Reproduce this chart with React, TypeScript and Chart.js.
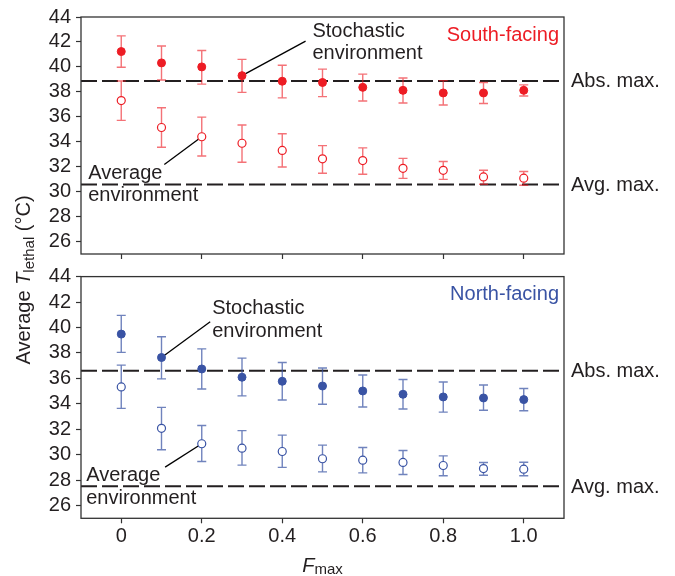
import { useEffect, useRef } from 'react';
import { Chart, registerables } from 'chart.js';

Chart.register(...registerables);

// F_max values (x axis)
const fMax = [0, 0.1, 0.2, 0.3, 0.4, 0.5, 0.6, 0.7, 0.8, 0.9, 1.0];
const fTicks = [0, 0.2, 0.4, 0.6, 0.8, 1.0];
const fTickLabels = ['0', '0.2', '0.4', '0.6', '0.8', '1.0'];
const tempTicks = [26, 28, 30, 32, 34, 36, 38, 40, 42, 44];

// South-facing slope: stochastic environment (filled) and average environment (open)
const southStochastic = [41.23, 40.32, 40.0, 39.3, 38.85, 38.75, 38.36, 38.12, 37.91, 37.91, 38.12];
const southStochasticHi = [42.49, 41.68, 41.31, 40.6, 40.13, 39.82, 39.42, 39.11, 38.9, 38.75, 38.56];
const southStochasticLo = [39.97, 38.95, 38.62, 37.96, 37.52, 37.62, 37.26, 37.1, 36.94, 37.07, 37.67];
const southAverage = [37.3, 35.14, 34.4, 33.88, 33.3, 32.63, 32.49, 31.87, 31.71, 31.18, 31.08];
const southAverageHi = [38.87, 36.73, 35.97, 35.34, 34.64, 33.69, 33.51, 32.67, 32.41, 31.71, 31.61];
const southAverageLo = [35.71, 33.56, 32.86, 32.36, 31.97, 31.47, 31.39, 31.06, 30.98, 30.59, 30.51];
const southAbsMax = 38.87;
const southAvgMax = 30.57;

// North-facing slope
const northStochastic = [39.48, 37.64, 36.74, 36.09, 35.77, 35.4, 35.01, 34.75, 34.54, 34.46, 34.33];
const northStochasticHi = [40.95, 39.27, 38.32, 37.59, 37.25, 36.82, 36.27, 35.91, 35.72, 35.48, 35.2];
const northStochasticLo = [38.04, 35.96, 35.17, 34.62, 34.3, 33.96, 33.75, 33.59, 33.35, 33.49, 33.46];
const northAverage = [35.33, 32.07, 30.86, 30.51, 30.25, 29.68, 29.57, 29.39, 29.15, 28.91, 28.86];
const northAverageHi = [37.04, 33.72, 32.3, 31.89, 31.54, 30.75, 30.57, 30.33, 29.91, 29.39, 29.41];
const northAverageLo = [33.64, 30.39, 29.46, 29.18, 29.0, 28.65, 28.57, 28.44, 28.34, 28.39, 28.34];
const northAbsMax = 36.59;
const northAvgMax = 27.52;

const FONT = '"Liberation Sans", Arial, Helvetica, sans-serif';
const INK = '#231f20';
const RED = '#ed1c24';
const RED_BAR = 'rgba(237, 28, 36, 0.62)';
const BLUE = '#3953a4';
const BLUE_BAR = 'rgba(57, 83, 164, 0.72)';

type Pt = { x: number; y: number };

interface PanelSpec {
  name: string;
  color: string;
  barColor: string;
  stoch: number[];
  stochHi: number[];
  stochLo: number[];
  avg: number[];
  avgHi: number[];
  avgLo: number[];
  absMax: number;
  avgMax: number;
  padTop: number;
  padBottom: number;
  xAxisHeight: number;
  showXLabels: boolean;
  stochText: Pt;
  stochFrom: Pt;
  stochTo: number;
  avgText: Pt;
  avgFrom: Pt;
  avgTo: number;
  lineGap: number;
  drawYTitle: boolean;
  drawXTitle: boolean;
}

function drawRichText(
  ctx: CanvasRenderingContext2D,
  parts: { text: string; font: string; dy: number }[],
  x: number,
  y: number,
) {
  let cx = x;
  for (const p of parts) {
    ctx.font = p.font;
    ctx.fillText(p.text, cx, y + p.dy);
    cx += ctx.measureText(p.text).width;
  }
}

function richWidth(ctx: CanvasRenderingContext2D, parts: { text: string; font: string }[]) {
  let w = 0;
  for (const p of parts) {
    ctx.font = p.font;
    w += ctx.measureText(p.text).width;
  }
  return w;
}

function makePanel(canvas: HTMLCanvasElement, spec: PanelSpec) {
  const decor = {
    id: 'panelDecor-' + spec.name,
    beforeDatasetsDraw(chart: any) {
      const { ctx, chartArea: a, scales } = chart;
      const xs = scales.x;
      const ys = scales.y;
      ctx.save();
      ctx.beginPath();
      ctx.rect(a.left, a.top, a.right - a.left, a.bottom - a.top);
      ctx.clip();

      // reference maxima as dashed lines
      ctx.strokeStyle = INK;
      ctx.lineWidth = 2;
      ctx.setLineDash([16, 5]);
      for (const v of [spec.absMax, spec.avgMax]) {
        const py = ys.getPixelForValue(v);
        ctx.beginPath();
        ctx.moveTo(a.left, py);
        ctx.lineTo(a.right, py);
        ctx.stroke();
      }
      ctx.setLineDash([]);

      // error bars
      ctx.strokeStyle = spec.barColor;
      ctx.lineWidth = 1.4;
      const cap = 4.5;
      const sets = [
        [spec.stochLo, spec.stochHi],
        [spec.avgLo, spec.avgHi],
      ];
      for (const [lo, hi] of sets) {
        fMax.forEach((f, i) => {
          const px = xs.getPixelForValue(f);
          const pLo = ys.getPixelForValue(lo[i]);
          const pHi = ys.getPixelForValue(hi[i]);
          ctx.beginPath();
          ctx.moveTo(px, pLo);
          ctx.lineTo(px, pHi);
          ctx.moveTo(px - cap, pLo);
          ctx.lineTo(px + cap, pLo);
          ctx.moveTo(px - cap, pHi);
          ctx.lineTo(px + cap, pHi);
          ctx.stroke();
        });
      }

      // leader lines from the annotations to their points
      ctx.strokeStyle = '#000';
      ctx.lineWidth = 1.3;
      const leaders: [Pt, Pt][] = [
        [spec.stochFrom, { x: fMax[spec.stochTo], y: spec.stoch[spec.stochTo] }],
        [spec.avgFrom, { x: fMax[spec.avgTo], y: spec.avg[spec.avgTo] }],
      ];
      for (const [p0, p1] of leaders) {
        ctx.beginPath();
        ctx.moveTo(xs.getPixelForValue(p0.x), ys.getPixelForValue(p0.y));
        ctx.lineTo(xs.getPixelForValue(p1.x), ys.getPixelForValue(p1.y));
        ctx.stroke();
      }
      ctx.restore();
    },
    afterDatasetsDraw(chart: any) {
      const { ctx, chartArea: a, scales } = chart;
      const xs = scales.x;
      const ys = scales.y;
      ctx.save();

      // frame
      ctx.strokeStyle = '#333333';
      ctx.lineWidth = 1.3;
      ctx.strokeRect(a.left, a.top, a.right - a.left, a.bottom - a.top);

      ctx.fillStyle = INK;
      ctx.textBaseline = 'alphabetic';
      ctx.textAlign = 'left';
      ctx.font = `20px ${FONT}`;

      // annotation text
      const sx = xs.getPixelForValue(spec.stochText.x);
      const sy = ys.getPixelForValue(spec.stochText.y);
      ctx.fillText('Stochastic', sx, sy);
      ctx.fillText('environment', sx, sy + spec.lineGap);
      const ax = xs.getPixelForValue(spec.avgText.x);
      const ay = ys.getPixelForValue(spec.avgText.y);
      ctx.fillText('Average', ax, ay);
      ctx.fillText('environment', ax, ay + spec.lineGap);

      // labels of the reference lines, outside the plot
      ctx.fillText('Abs. max.', a.right + 7, ys.getPixelForValue(spec.absMax) + 6.5);
      ctx.fillText('Avg. max.', a.right + 7, ys.getPixelForValue(spec.avgMax) + 6.5);

      // panel name
      ctx.fillStyle = spec.color;
      ctx.textAlign = 'right';
      ctx.fillText(spec.name, a.right - 5, a.top + 23.5);

      ctx.fillStyle = INK;
      ctx.textAlign = 'left';

      if (spec.drawYTitle) {
        const parts = [
          { text: 'Average ', font: `20px ${FONT}`, dy: 0 },
          { text: 'T', font: `italic 20px ${FONT}`, dy: 0 },
          { text: 'lethal', font: `15px ${FONT}`, dy: 3.5 },
          { text: ' (°C)', font: `20px ${FONT}`, dy: 0 },
        ];
        const w = richWidth(ctx, parts);
        ctx.save();
        ctx.translate(30, 280);
        ctx.rotate(-Math.PI / 2);
        drawRichText(ctx, parts, -w / 2, 0);
        ctx.restore();
      }

      if (spec.drawXTitle) {
        const parts = [
          { text: 'F', font: `italic 20px ${FONT}`, dy: 0 },
          { text: 'max', font: `15px ${FONT}`, dy: 1.5 },
        ];
        const w = richWidth(ctx, parts);
        drawRichText(ctx, parts, 322.5 - w / 2, 572);
      }
      ctx.restore();
    },
  };

  const tickFont = { family: FONT, size: 20 };

  return new Chart(canvas, {
    type: 'scatter',
    data: {
      datasets: [
        {
          label: 'Stochastic environment',
          data: fMax.map((x, i) => ({ x, y: spec.stoch[i] })),
          pointRadius: 4,
          pointBackgroundColor: spec.color,
          pointBorderColor: spec.color,
          pointBorderWidth: 1,
          showLine: false,
        },
        {
          label: 'Average environment',
          data: fMax.map((x, i) => ({ x, y: spec.avg[i] })),
          pointRadius: 4,
          pointBackgroundColor: '#ffffff',
          pointBorderColor: spec.color,
          pointBorderWidth: 1.2,
          showLine: false,
        },
      ],
    },
    options: {
      responsive: false,
      animation: false,
      events: [],
      layout: {
        padding: { left: 21, right: 111, top: spec.padTop, bottom: spec.padBottom },
      },
      plugins: {
        legend: { display: false },
        tooltip: { enabled: false },
      },
      scales: {
        x: {
          type: 'linear',
          min: -0.1,
          max: 1.1,
          afterBuildTicks: (s: any) => {
            s.ticks = fTicks.map((v) => ({ value: v }));
          },
          afterFit: (s: any) => {
            s.height = spec.xAxisHeight;
          },
          ticks: {
            display: spec.showXLabels,
            autoSkip: false,
            maxRotation: 0,
            padding: 1,
            color: INK,
            font: tickFont,
            callback: (_v: any, i: number) => fTickLabels[i],
          },
          grid: {
            drawOnChartArea: false,
            drawTicks: true,
            tickLength: 5,
            tickColor: '#333333',
            tickWidth: 1.2,
          },
          border: { display: false },
        },
        y: {
          type: 'linear',
          min: 25,
          max: 44,
          afterBuildTicks: (s: any) => {
            s.ticks = tempTicks.map((v) => ({ value: v }));
          },
          afterFit: (s: any) => {
            s.width = 60;
          },
          ticks: {
            autoSkip: false,
            padding: 5,
            color: INK,
            font: tickFont,
            callback: (v: any) => String(v),
          },
          grid: {
            drawOnChartArea: false,
            drawTicks: true,
            tickLength: 5,
            tickColor: '#333333',
            tickWidth: 1.2,
          },
          border: { display: false },
        },
      },
    },
    plugins: [decor],
  } as any);
}

const southSpec: PanelSpec = {
  name: 'South-facing',
  color: RED,
  barColor: RED_BAR,
  stoch: southStochastic,
  stochHi: southStochasticHi,
  stochLo: southStochasticLo,
  avg: southAverage,
  avgHi: southAverageHi,
  avgLo: southAverageLo,
  absMax: southAbsMax,
  avgMax: southAvgMax,
  padTop: 12.4,
  padBottom: 576 - 254 - 10,
  xAxisHeight: 10,
  showXLabels: false,
  stochText: { x: 0.475, y: 42.4 },
  stochFrom: { x: 0.458, y: 42.07 },
  stochTo: 3,
  avgText: { x: -0.082, y: 31.0 },
  avgFrom: { x: 0.107, y: 32.18 },
  avgTo: 2,
  lineGap: 22,
  drawYTitle: true,
  drawXTitle: false,
};

const northSpec: PanelSpec = {
  name: 'North-facing',
  color: BLUE,
  barColor: BLUE_BAR,
  stoch: northStochastic,
  stochHi: northStochasticHi,
  stochLo: northStochasticLo,
  avg: northAverage,
  avgHi: northAverageHi,
  avgLo: northAverageLo,
  absMax: northAbsMax,
  avgMax: northAvgMax,
  padTop: 276.6,
  padBottom: 576 - 518.3 - 40,
  xAxisHeight: 40,
  showXLabels: true,
  stochText: { x: 0.226, y: 41.06 },
  stochFrom: { x: 0.221, y: 40.45 },
  stochTo: 1,
  avgText: { x: -0.087, y: 27.97 },
  avgFrom: { x: 0.109, y: 29.02 },
  avgTo: 2,
  lineGap: 23,
  drawYTitle: false,
  drawXTitle: true,
};

export default function App() {
  const topRef = useRef<HTMLCanvasElement>(null);
  const bottomRef = useRef<HTMLCanvasElement>(null);

  useEffect(() => {
    if (!topRef.current || !bottomRef.current) return;
    const top = makePanel(topRef.current, southSpec);
    const bottom = makePanel(bottomRef.current, northSpec);
    return () => {
      top.destroy();
      bottom.destroy();
    };
  }, []);

  const canvasStyle: any = { position: 'absolute', left: 0, top: 0, width: 675, height: 576 };
  return (
    <div style={{ position: 'fixed', left: 0, top: 0, width: 675, height: 576, background: '#ffffff' }}>
      <canvas ref={topRef} width={675} height={576} style={canvasStyle} />
      <canvas ref={bottomRef} width={675} height={576} style={canvasStyle} />
    </div>
  );
}
